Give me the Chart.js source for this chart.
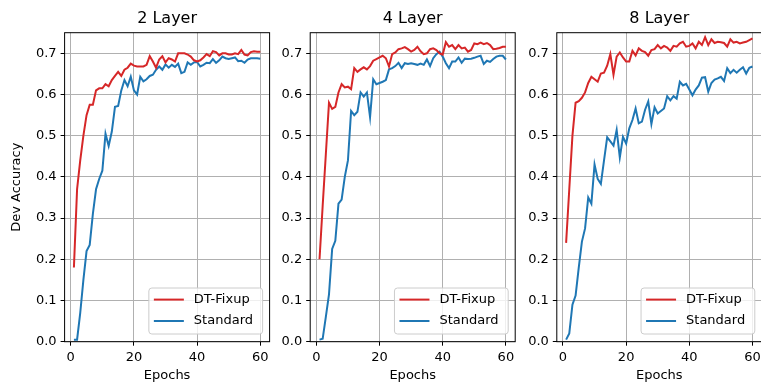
<!DOCTYPE html>
<html>
<head>
<meta charset="utf-8">
<script src="https://cdn.jsdelivr.net/npm/chart.js@4.4.0/dist/chart.umd.min.js"></script>
<style>
  html, body { margin: 0; padding: 0; background: #fff; }
  body { width: 761px; height: 385px; position: relative; overflow: hidden; }
  .panel { position: absolute; top: 0; height: 385px; }
</style>
</head>
<body>
<div class="panel" style="left:0;width:274px"><canvas id="chart2" width="274" height="385"></canvas></div>
<div class="panel" style="left:274px;width:245px"><canvas id="chart4" width="245" height="385"></canvas></div>
<div class="panel" style="left:519px;width:246px"><canvas id="chart8" width="246" height="385"></canvas></div>
<script>
// Eixo x: épocas 1..60
const epochs = Array.from({ length: 60 }, (_, i) => i + 1);
const xTicks = [0, 20, 40, 60];
const yTicks = [0, 0.1, 0.2, 0.3, 0.4, 0.5, 0.6, 0.7];
const seriesNames = ['DT-Fixup', 'Standard'];
const titles = ['2 Layer', '4 Layer', '8 Layer'];

// 2 Layer
const fixup2 = [0.18, 0.37, 0.44, 0.50, 0.55, 0.575, 0.575, 0.61, 0.615, 0.615,
  0.625, 0.62, 0.635, 0.645, 0.655, 0.645, 0.66, 0.665, 0.675, 0.67,
  0.668, 0.668, 0.668, 0.672, 0.693, 0.68, 0.665, 0.685, 0.693, 0.678,
  0.688, 0.685, 0.68, 0.70, 0.70, 0.70, 0.697, 0.692, 0.683, 0.68,
  0.683, 0.69, 0.698, 0.693, 0.705, 0.703, 0.695, 0.70, 0.70, 0.697,
  0.697, 0.70, 0.698, 0.708, 0.697, 0.695, 0.703, 0.705, 0.704, 0.704];
const standard2 = [0.005, 0.005, 0.07, 0.15, 0.22, 0.235, 0.31, 0.37, 0.395, 0.415,
  0.505, 0.475, 0.51, 0.57, 0.572, 0.61, 0.635, 0.62, 0.643, 0.61,
  0.60, 0.643, 0.632, 0.637, 0.645, 0.648, 0.66, 0.668, 0.66, 0.673,
  0.665, 0.672, 0.667, 0.675, 0.652, 0.655, 0.678, 0.672, 0.678, 0.679,
  0.668, 0.672, 0.677, 0.676, 0.686, 0.677, 0.683, 0.692, 0.688, 0.686,
  0.688, 0.69, 0.681, 0.682, 0.677, 0.685, 0.688, 0.688, 0.688, 0.687];

// 4 Layer
const fixup4 = [0.20, 0.33, 0.455, 0.58, 0.565, 0.57, 0.605, 0.625, 0.617, 0.619,
  0.613, 0.664, 0.655, 0.661, 0.666, 0.661, 0.669, 0.682, 0.686, 0.69,
  0.694, 0.688, 0.668, 0.698, 0.702, 0.71, 0.712, 0.715, 0.71, 0.704,
  0.708, 0.716, 0.705, 0.698, 0.70, 0.71, 0.712, 0.708, 0.70, 0.697,
  0.727, 0.716, 0.72, 0.71, 0.72, 0.712, 0.714, 0.704, 0.708, 0.724,
  0.722, 0.726, 0.722, 0.725, 0.72, 0.71, 0.711, 0.713, 0.716, 0.716];
const standard4 = [0.005, 0.007, 0.06, 0.115, 0.225, 0.245, 0.335, 0.345, 0.40, 0.44,
  0.56, 0.55, 0.558, 0.605, 0.595, 0.605, 0.545, 0.637, 0.625, 0.628,
  0.631, 0.635, 0.661, 0.664, 0.669, 0.677, 0.664, 0.676, 0.674, 0.676,
  0.674, 0.672, 0.675, 0.672, 0.685, 0.669, 0.688, 0.698, 0.704, 0.692,
  0.676, 0.664, 0.68, 0.68, 0.69, 0.677, 0.687, 0.686, 0.687, 0.689,
  0.692, 0.694, 0.674, 0.682, 0.679, 0.686, 0.692, 0.694, 0.694, 0.685];

// 8 Layer
const fixup8 = [0.24, 0.37, 0.50, 0.58, 0.584, 0.592, 0.605, 0.628, 0.643, 0.637,
  0.631, 0.651, 0.653, 0.67, 0.698, 0.648, 0.692, 0.702, 0.69, 0.68,
  0.68, 0.706, 0.695, 0.712, 0.706, 0.703, 0.694, 0.708, 0.71, 0.72,
  0.712, 0.718, 0.714, 0.706, 0.718, 0.716, 0.724, 0.728, 0.716, 0.718,
  0.724, 0.712, 0.728, 0.72, 0.739, 0.72, 0.734, 0.725, 0.728, 0.727,
  0.725, 0.716, 0.734, 0.726, 0.728, 0.724, 0.726, 0.728, 0.732, 0.736];
const standard8 = [0.005, 0.02, 0.09, 0.112, 0.18, 0.243, 0.275, 0.35, 0.335, 0.43,
  0.395, 0.383, 0.44, 0.496, 0.486, 0.476, 0.514, 0.447, 0.497, 0.481,
  0.518, 0.538, 0.566, 0.53, 0.534, 0.563, 0.583, 0.528, 0.569, 0.554,
  0.56, 0.566, 0.596, 0.586, 0.596, 0.59, 0.631, 0.622, 0.626, 0.612,
  0.598, 0.612, 0.622, 0.641, 0.642, 0.607, 0.628, 0.636, 0.639, 0.643,
  0.633, 0.664, 0.652, 0.66, 0.653, 0.66, 0.666, 0.651, 0.665, 0.668];

const RED = '#d62728';
const BLUE = '#1f77b4';
const FONT = 'DejaVu Sans';

Chart.defaults.font.family = FONT;
Chart.defaults.color = '#000';

// Contorno dos eixos + legenda no canto inferior direito (estilo matplotlib)
const boxAndLegend = {
  id: 'boxAndLegend',
  afterDatasetsDraw(chart) {
    const { ctx, chartArea } = chart;
    ctx.save();
    ctx.strokeStyle = '#000';
    ctx.lineWidth = 1;
    ctx.strokeRect(chartArea.left, chartArea.top, chartArea.width, chartArea.height);

    ctx.font = '13px "' + FONT + '"';
    const sets = chart.data.datasets;
    const textW = Math.max(...sets.map(d => ctx.measureText(d.label).width));
    const w = 45 + textW + 9.6;
    const h = 46;
    const x = chartArea.right - 7 - w;
    const y = chartArea.bottom - 7.7 - h;
    ctx.beginPath();
    ctx.roundRect(x, y, w, h, 3);
    ctx.fillStyle = 'rgba(255,255,255,0.8)';
    ctx.fill();
    ctx.strokeStyle = '#cccccc';
    ctx.stroke();

    sets.forEach((d, i) => {
      const cy = y + 11.6 + i * 21.4;
      ctx.strokeStyle = d.borderColor;
      ctx.lineWidth = 2;
      ctx.beginPath();
      ctx.moveTo(x + 5, cy);
      ctx.lineTo(x + 35, cy);
      ctx.stroke();
      ctx.fillStyle = '#000';
      ctx.textBaseline = 'middle';
      ctx.textAlign = 'left';
      ctx.fillText(d.label, x + 45, cy);
    });
    ctx.restore();
  }
};

const panels = [
  { id: 'chart2', title: titles[0], fixup: fixup2, standard: standard2, yWidth: 64.6, padRight: 4.4, yTitle: true },
  { id: 'chart4', title: titles[1], fixup: fixup4, standard: standard4, yWidth: 36.2, padRight: 3.8, yTitle: false },
  { id: 'chart8', title: titles[2], fixup: fixup8, standard: standard8, yWidth: 37.8, padRight: 3.2, yTitle: false }
];

panels.forEach(p => {
  const ctx = document.getElementById(p.id).getContext('2d');
  new Chart(ctx, {
    type: 'line',
    data: {
      datasets: [
        { label: seriesNames[0], data: epochs.map((e, i) => ({ x: e, y: p.fixup[i] })), borderColor: RED, backgroundColor: RED },
        { label: seriesNames[1], data: epochs.map((e, i) => ({ x: e, y: p.standard[i] })), borderColor: BLUE, backgroundColor: BLUE }
      ]
    },
    options: {
      responsive: false,
      animation: false,
      layout: { padding: { left: 0, right: p.padRight, top: 0, bottom: 0 } },
      elements: {
        point: { radius: 0, hoverRadius: 0 },
        line: { borderWidth: 2, tension: 0 }
      },
      plugins: {
        legend: { display: false },
        tooltip: { enabled: false },
        title: {
          display: true,
          text: p.title,
          fullSize: false,
          font: { size: 16, weight: 'normal' },
          color: '#000',
          padding: { top: 9.4, bottom: 4.1 }
        }
      },
      scales: {
        x: {
          type: 'linear',
          min: -1.95,
          max: 62.95,
          afterBuildTicks: s => { s.ticks = xTicks.map(v => ({ value: v })); },
          afterFit: s => { s.height = 43.3; },
          grid: { color: '#b0b0b0', lineWidth: 1, tickLength: 4, tickColor: '#000' },
          border: { display: false },
          ticks: { font: { size: 13 }, color: '#000', padding: 4, maxRotation: 0 },
          title: { display: true, text: 'Epochs', font: { size: 13 }, color: '#000', padding: { top: 0, bottom: 1.7 } }
        },
        y: {
          min: 0,
          max: 0.75,
          afterBuildTicks: s => { s.ticks = yTicks.map(v => ({ value: v })); },
          afterFit: s => { s.width = p.yWidth; },
          grid: { color: '#b0b0b0', lineWidth: 1, tickLength: 4, tickColor: '#000' },
          border: { display: false },
          ticks: { font: { size: 13 }, color: '#000', padding: 4, callback: v => v.toFixed(1) },
          title: { display: p.yTitle, text: 'Dev Accuracy', font: { size: 13 }, color: '#000', padding: { top: 9, bottom: 0 } }
        }
      }
    },
    plugins: [boxAndLegend]
  });
});
</script>
</body>
</html>
